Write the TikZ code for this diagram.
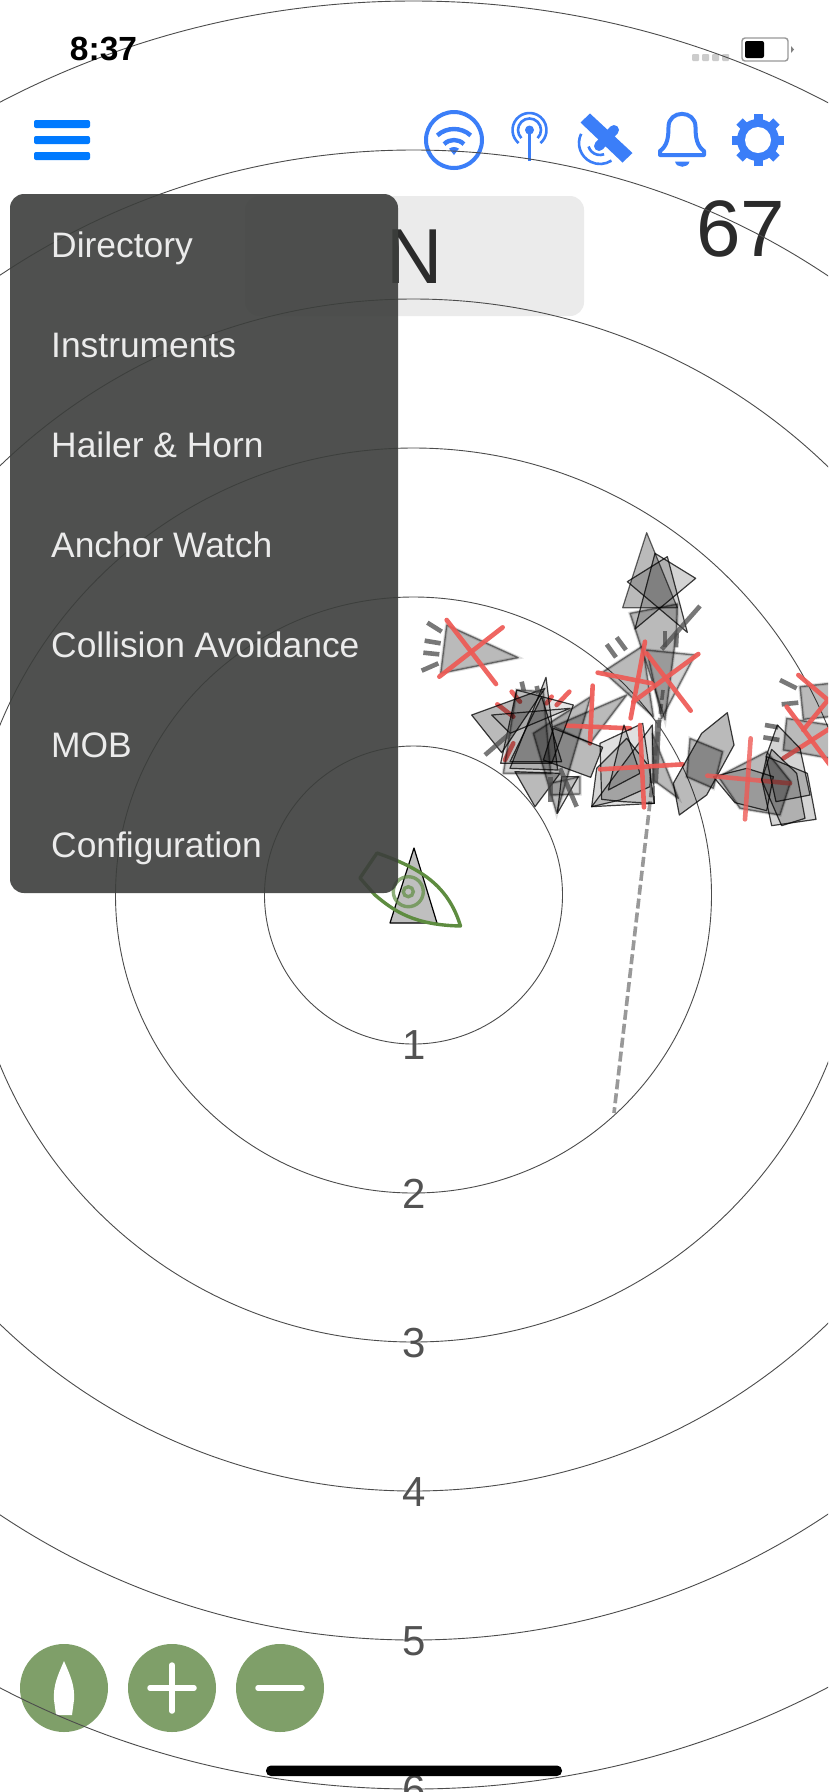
\documentclass[tikz,border=0pt]{standalone}
\usepackage{fontspec}
\setmainfont{Liberation Sans}
\definecolor{iconblue}{HTML}{3B7EF8}
\definecolor{barblue}{HTML}{007AFF}
\definecolor{btngreen}{HTML}{7F9F69}
\definecolor{boatgreen}{HTML}{5E8C40}
\definecolor{lostred}{HTML}{EE5A55}
\definecolor{menugray}{HTML}{3C3E3C}
\newcommand{\fsz}[1]{\fontsize{#1}{#1}\selectfont}
\tikzset{ringline/.style={draw=black!70,line width=0.9pt}}
\tikzset{ringlabel/.style={text=black!68,inner sep=0pt,anchor=base,font=\fsz{42}}}
\tikzset{menuitem/.style={text=black!8,inner sep=0pt,anchor=base west,font=\fsz{35.4}}}
\tikzset{roundbtn/.style={circle,fill=btngreen,inner sep=0pt,minimum size=88pt}}
\tikzset{btnline/.style={draw=white,line width=5.5pt,line cap=round}}
\tikzset{iconline/.style={draw=iconblue,line width=4pt}}
\tikzset{tgtsharp/.style={draw=black,draw opacity=.75,fill=black,fill opacity=.27,line width=1.2pt,line join=round}}
\tikzset{tgtpale/.style={tgtsharp,fill opacity=.17}}
\tikzset{tgtlost/.style={draw=black,draw opacity=.45,fill=black,fill opacity=.27,line width=1.4pt,line join=round,
      preaction={draw=black,draw opacity=.12,line width=3.5pt}}}
\tikzset{tgtfaint/.style={tgtlost,fill opacity=.17}}
\tikzset{losttick/.style={draw=black!70,draw opacity=.75,line width=4.6pt}}
\tikzset{lostcross/.style={draw=lostred,draw opacity=.92,line width=4.6pt,line cap=round}}
\begin{document}
\begin{tikzpicture}[x=1pt,y=-1pt]
    \clip (0,0) rectangle (828,1792);
    \fill[white] (0,0) rectangle (828,1792);

    \fill[black!8,rounded corners=14pt] (245,196) rectangle (584,316);
    \node[text=black!83,inner sep=0pt,anchor=base,font=\fsz{78}] (bearing) at (415,283) {N};
    \node[text=black!83,inner sep=0pt,anchor=base,font=\fsz{80}] (speed) at (741,256) {67};

    \fill[barblue,rounded corners=2pt] (34,120) rectangle (90,128);
    \fill[barblue,rounded corners=2pt] (34,136) rectangle (90,144);
    \fill[barblue,rounded corners=2pt] (34,152) rectangle (90,160);

    \draw[iconline] (454,140) circle (28);
    \draw[iconline,line width=4.4pt] (454,154)++(228:25) arc[start angle=228,end angle=312,radius=25];
    \draw[iconline,line width=4.4pt] (454,154)++(225:14) arc[start angle=225,end angle=315,radius=14];
    \fill[iconblue] (454,155) -- ++(232:8) arc[start angle=232,end angle=308,radius=8] -- cycle;

    \draw[iconline,line width=3.6pt] (529.5,130) -- (529.5,161);
    \fill[iconblue] (529.5,130) circle (4.5);
    \draw[iconline,line width=2.6pt] (529.5,130)++(135:11.5) arc[start angle=135,end angle=405,radius=11.5];
    \draw[iconline,line width=2.6pt] (529.5,130)++(130:17) arc[start angle=130,end angle=410,radius=17];

    \fill[iconblue] (590,113.5) -- (580.5,122.5) -- (622.5,162.5) -- (632.5,153) -- cycle;
    \draw[iconline,line width=10pt,line cap=round] (614,130) -- (599,146);
    \draw[iconline,line width=2.6pt] (600,143)++(206:21) arc[start angle=206,end angle=57,radius=21];
    \draw[iconline,line width=2.6pt] (600,143)++(163:12) arc[start angle=163,end angle=70,radius=12];

    \draw[iconline,line join=round] (660,155) -- (660,151) .. controls (667,146) and (668.5,138) .. (668.5,127)
      .. controls (668.5,109.5) and (695.5,109.5) .. (695.5,127) .. controls (695.5,138) and (697,146) .. (704,151) -- (704,155) -- cycle;
    \fill[iconblue] (675,161.5) -- (689.5,161.5) .. controls (688,168.5) and (676.5,168.5) .. (675,161.5) -- cycle;

    \fill[iconblue] (758,140) circle (21);
    \draw[iconblue,line width=9pt] (758,140)++(0:26) -- ++(180:52);
    \draw[iconblue,line width=9pt] (758,140)++(45:26) -- ++(225:52);
    \draw[iconblue,line width=9pt] (758,140)++(90:26) -- ++(270:52);
    \draw[iconblue,line width=9pt] (758,140)++(135:26) -- ++(315:52);
    \fill[white] (758,140) circle (13);

    \fill[black!20,rounded corners=1pt] (692,54) rectangle (699,61);
    \fill[black!20,rounded corners=1pt] (702,54) rectangle (709,61);
    \fill[black!20,rounded corners=1pt] (712,54) rectangle (719,61);
    \fill[black!20,rounded corners=1pt] (722,54) rectangle (729,61);
    \draw[black!40,line width=1.4pt,rounded corners=3pt] (742,38) rectangle (788,61);
    \fill[black,rounded corners=2pt] (745,41) rectangle (764,58);
    \fill[black!50] (791,46) -- (794,49.5) -- (791,53) -- cycle;

    \node[ringlabel] (rng1) at (414.5,1059) {1};
    \node[ringlabel] (rng2) at (414.5,1208) {2};
    \node[ringlabel] (rng3) at (414.5,1357) {3};
    \node[ringlabel] (rng4) at (414.5,1506) {4};
    \node[ringlabel] (rng5) at (414.5,1655) {5};
    \node[ringlabel] (rng6) at (414.5,1804) {6};

    \node[roundbtn] (sailbtn) at (64,1688) {};
    \node[roundbtn] (plusbtn) at (172,1688) {};
    \node[roundbtn] (minusbtn) at (280,1688) {};
    \fill[white] (64,1661) .. controls (70,1675) and (75,1685) .. (74,1700) -- (72,1715) -- (56,1715) -- (54,1700) .. controls (53,1685) and (58,1675) .. (64,1661) -- cycle;
    \draw[btnline] (150,1688) -- (194,1688);
    \draw[btnline] (172,1665) -- (172,1711);
    \draw[btnline] (258,1688) -- (302,1688);

    \draw[ringline] (413.5,895) circle (149);
    \draw[ringline] (413.5,895) circle (298);
    \draw[ringline] (413.5,895) circle (447);
    \draw[ringline] (413.5,895) circle (596);
    \draw[ringline] (413.5,895) circle (745);
    \draw[ringline] (413.5,895) circle (894);

    \draw[draw=black!40,line width=3.6pt,dash pattern=on 10pt off 4pt] (663,690) -- (614,1113);

    \begin{scope}[shift={(420,520)},scale=1/3]
    \draw[tgtlost] (80,315) -- (295,413) -- (62,460) -- cycle;
    \draw[losttick] (22,308) -- (65,335);
    \draw[losttick] (14,362) -- (62,370);
    \draw[losttick] (10,398) -- (58,403);
    \draw[losttick] (5,452) -- (55,430);
    \draw[lostcross] (80,300) -- (228,492);
    \draw[lostcross] (248,322) -- (58,470);

    \draw[tgtlost] (630,280) -- (772,252) -- (770,330) -- (735,600) -- cycle;
    \draw[tgtsharp,draw opacity=.6] (680,38) -- (772,263) -- (608,263) -- cycle;
    \draw[tgtpale] (705,100) -- (827,175) -- (645,327) -- cycle;
    \draw[tgtpale] (742,110) -- (802,337) -- (622,185) -- cycle;
    \draw[losttick] (840,258) -- (725,388);
    \draw[losttick] (735,333) -- (735,382);
    \draw[losttick] (770,340) -- (768,382);
    \draw[tgtlost] (550,455) -- (668,378) -- (700,590) -- cycle;
    \draw[tgtfaint] (680,390) -- (825,405) -- (725,595) -- cycle;
    \draw[losttick] (560,373) -- (588,412);
    \draw[losttick] (590,352) -- (618,390);
    \draw[lostcross] (533,458) -- (695,490);
    \draw[lostcross] (675,365) -- (632,595);
    \draw[lostcross] (835,402) -- (640,545);
    \draw[lostcross] (680,400) -- (812,572);

    \draw[tgtlost] (620,525) -- (400,620) -- (510,670) -- cycle;
    \draw[tgtlost] (512,530) -- (410,880) -- (340,640) -- cycle;
    \draw[lostcross] (232,553) -- (280,590);
    \draw[lostcross] (275,515) -- (300,545);
    \draw[lostcross] (448,515) -- (410,555);
    \draw[lostcross] (395,530) -- (380,550);
    \draw[lostcross] (280,670) -- (255,720);
    \draw[lostcross] (518,497) -- (510,670);
    \draw[lostcross] (440,617) -- (630,625);
    \draw[tgtsharp] (285,755) -- (420,760) -- (345,860) -- cycle;
    \draw[tgtfaint] (390,790) -- (480,770) -- (480,822) -- (390,825) -- cycle;
    \draw[tgtfaint] (290,510) -- (370,515) -- (392,760) -- (250,760) -- cycle;
    \draw[tgtsharp] (155,585) -- (375,505) -- (245,698) -- cycle;
    \draw[tgtpale,fill opacity=.1] (215,585) -- (450,565) -- (270,640) -- cycle;
    \draw[tgtpale,fill opacity=.1] (290,510) -- (460,555) -- (395,730) -- (242,730) -- cycle;
    \draw[tgtpale] (378,472) -- (413,750) -- (270,745) -- cycle;
    \draw[tgtpale] (365,530) -- (425,725) -- (270,725) -- cycle;
    \draw[tgtpale,fill opacity=.27] (400,625) -- (548,682) -- (512,772) -- (370,720) -- cycle;
    \draw[tgtpale,fill opacity=.1] (412,880) -- (425,770) -- (475,770) -- cycle;
    \draw[losttick] (195,705) -- (270,640);
    \draw[losttick] (305,485) -- (312,515);
    \draw[losttick] (350,498) -- (355,520);
    \draw[losttick] (420,745) -- (470,860);
    \draw[losttick] (392,770) -- (392,845);

    \draw[tgtlost] (697,640) -- (775,835) -- (700,780) -- cycle;
    \draw[tgtpale] (515,860) -- (530,745) -- (620,655) -- (692,745) -- (690,800) -- (600,840) -- cycle;
    \draw[tgtpale,fill opacity=.12] (612,615) -- (660,760) -- (565,810) -- cycle;
    \draw[tgtpale,fill opacity=.12] (540,670) -- (668,610) -- (703,850) -- (610,845) -- (545,838) -- cycle;
    \draw[tgtpale,fill opacity=.12] (697,615) -- (703,850) -- (515,860) -- cycle;
    \draw[losttick,line width=6pt] (715,600) -- (705,790);
    \draw[lostcross] (540,748) -- (788,733);
    \draw[lostcross] (660,615) -- (672,862);

    \draw[tgtsharp] (922,578) -- (942,675) -- (860,825) -- (778,885) -- (760,790) -- (845,640) -- cycle;
    \draw[tgtlost] (810,655) -- (908,695) -- (880,805) -- (800,770) -- cycle;
    \draw[tgtlost] (895,770) -- (1040,695) -- (1112,785) -- (1080,885) -- (960,865) -- cycle;
    \draw[tgtpale] (880,770) -- (980,745) -- (1060,770) -- (1040,872) -- (945,848) -- cycle;
    \draw[lostcross,draw opacity=.8] (992,655) -- (975,898);
    \draw[lostcross,draw opacity=.8] (862,767) -- (1110,790);

    \draw[tgtlost] (1140,500) -- (1230,490) -- (1230,590) -- (1150,598) -- cycle;
    \draw[tgtlost] (1100,595) -- (1230,615) -- (1230,715) -- (1090,690) -- cycle;
    \draw[losttick] (1080,480) -- (1130,505);
    \draw[losttick] (1085,553) -- (1135,548);
    \draw[losttick] (1035,615) -- (1075,622);
    \draw[losttick] (1030,652) -- (1078,660);
    \draw[lostcross] (1135,465) -- (1224,540) -- (1150,630);
    \draw[lostcross] (1100,560) -- (1230,735);
    \draw[lostcross] (1230,625) -- (1090,715);
    \draw[tgtpale] (1040,710) -- (1162,760) -- (1188,898) -- (1055,917) -- (1025,778) -- cycle;
    \draw[tgtpale] (1072,615) -- (1140,685) -- (1170,825) -- (1068,845) -- (1038,710) -- cycle;
    \draw[tgtpale] (1055,688) -- (1130,760) -- (1155,895) -- (1085,917) -- (1025,780) -- cycle;
    \end{scope}

    \fill[black!25] (414,848) -- (437,923) -- (390,923) -- cycle;
    \draw[black,line width=1.2pt,line join=round] (414,848) -- (437,923) -- (390,923) -- cycle;
    \draw[boatgreen,line width=3.4pt,line join=round] (460.5,926) .. controls (448,885) and (420,868) .. (377,853) -- (360,878) -- (375,895) .. controls (395,912) and (415,925) .. (460.5,926) -- cycle;
    \draw[boatgreen,draw opacity=.7,line width=3.4pt] (408.3,891.7) circle (15);
    \draw[boatgreen,draw opacity=.7,line width=3.4pt] (408.3,891.7) circle (5);

    \fill[menugray,fill opacity=.9,rounded corners=14pt] (10,194) rectangle (398,893);
    \node[menuitem] (directory) at (51,257) {Directory};
    \node[menuitem] (instruments) at (51,357) {Instruments};
    \node[menuitem] (hailer) at (51,457) {Hailer \& Horn};
    \node[menuitem] (anchor) at (51,557) {Anchor Watch};
    \node[menuitem] (collision) at (51,657) {Collision Avoidance};
    \node[menuitem] (mob) at (51,757) {MOB};
    \node[menuitem] (config) at (51,857) {Configuration};

    \node[text=black,inner sep=0pt,anchor=base,font=\bfseries\fsz{33.5}] (clock) at (103.5,60.5) {8:37};
    \fill[black,rounded corners=5pt] (266,1765.5) rectangle (562,1776);
\end{tikzpicture}
\end{document}
